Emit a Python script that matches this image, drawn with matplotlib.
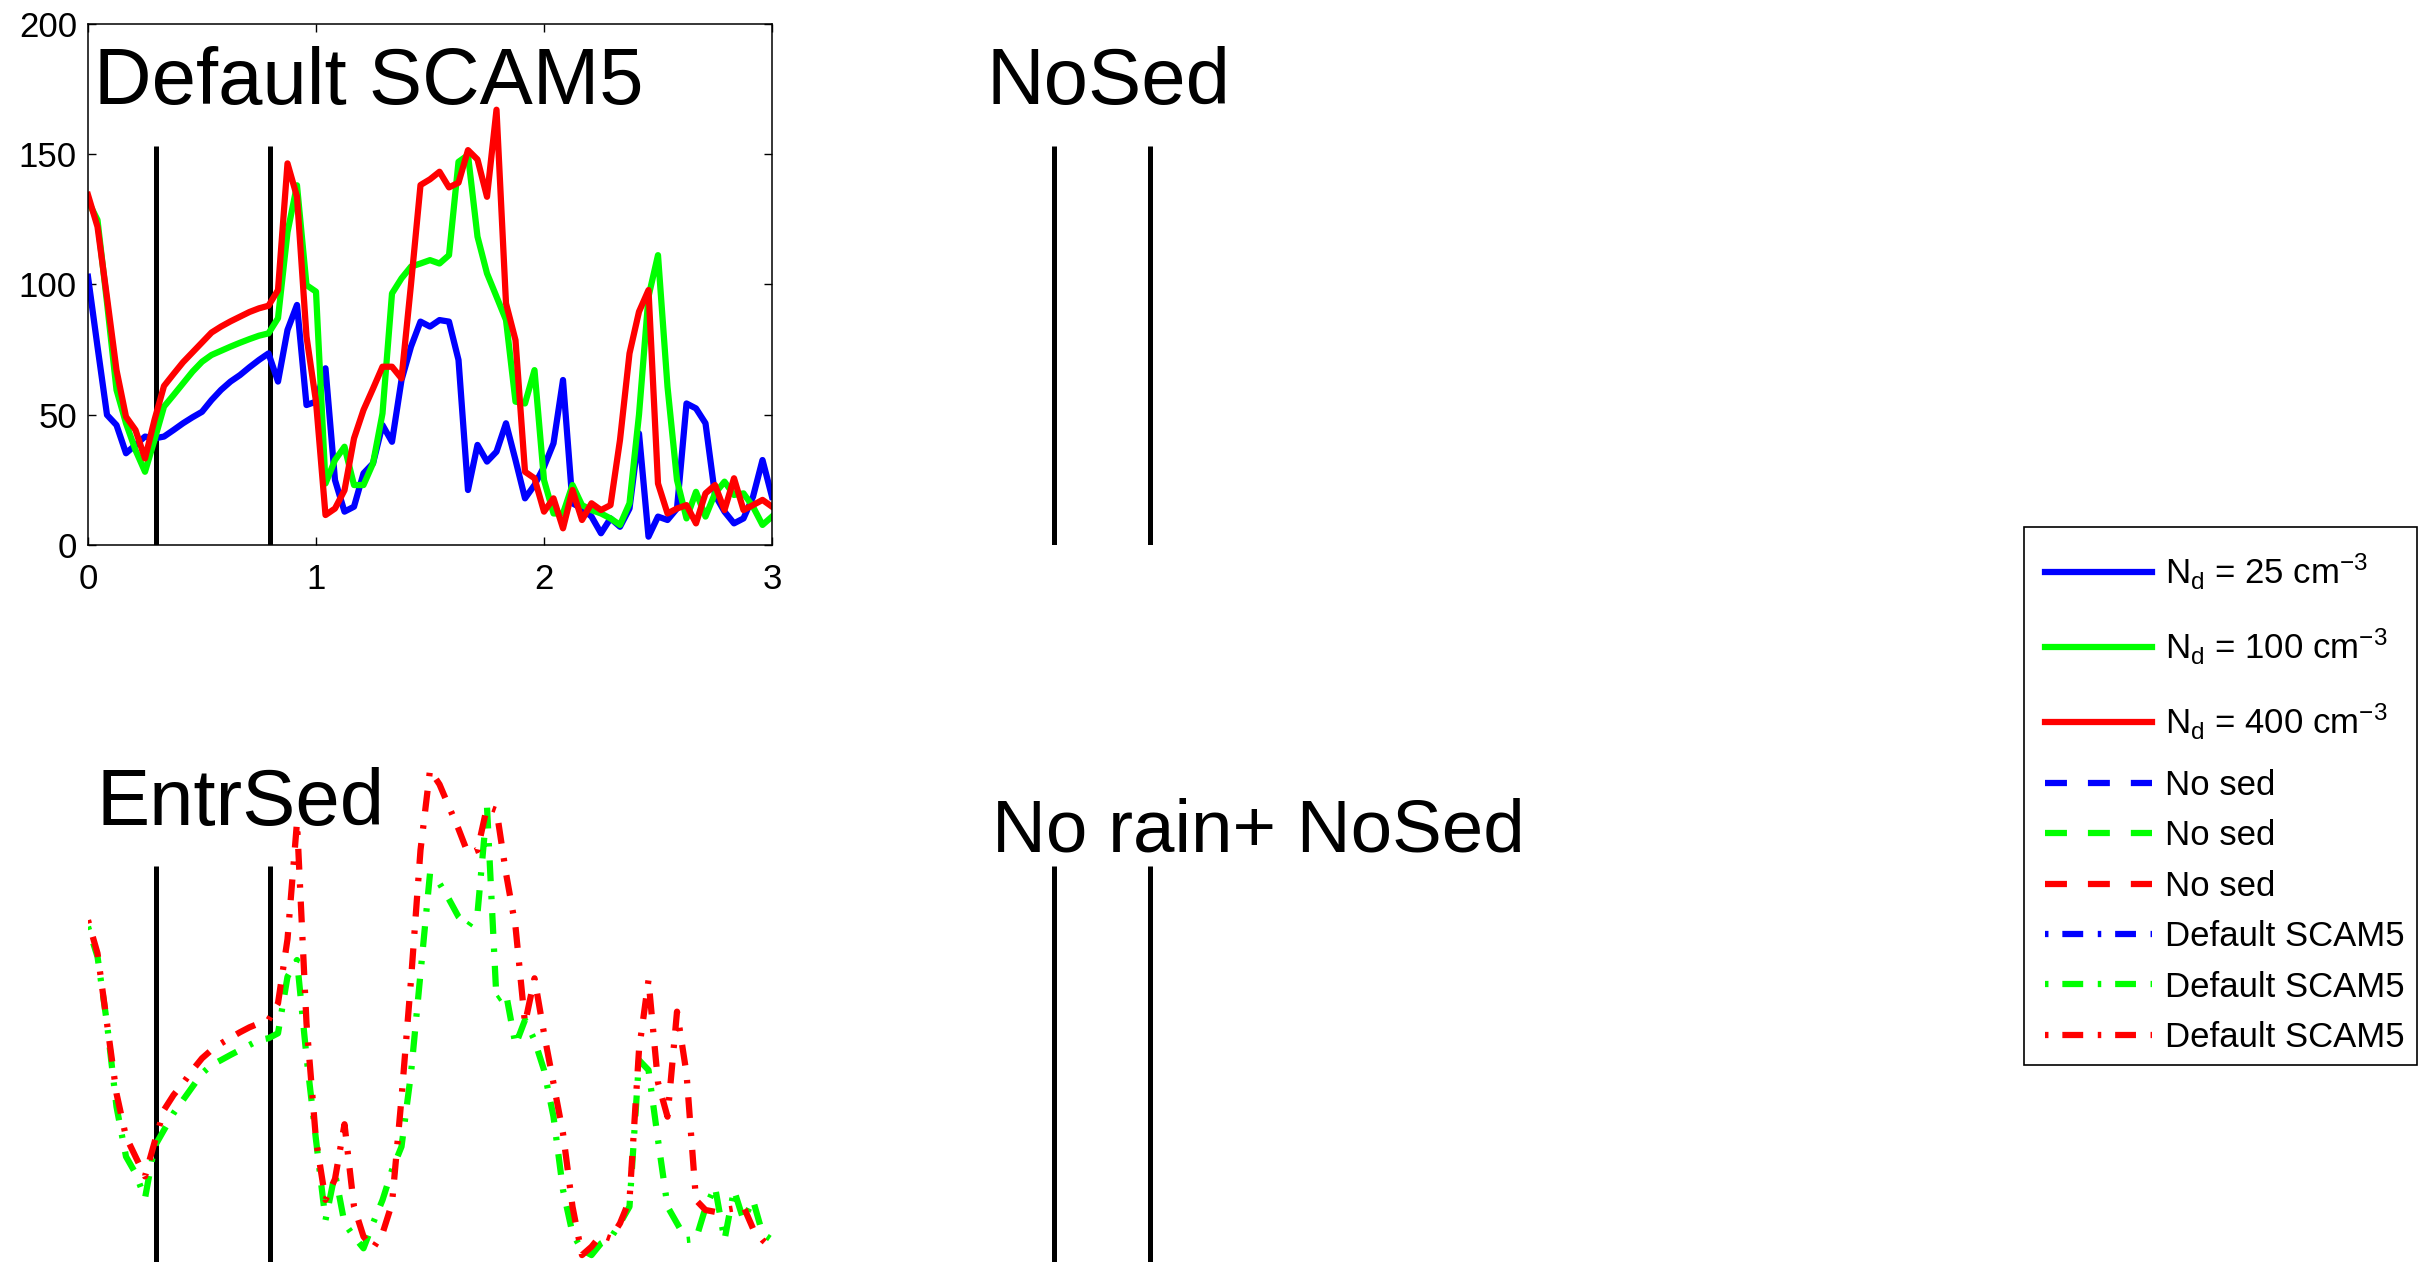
import matplotlib
matplotlib.use("Agg")
import matplotlib.pyplot as plt
from matplotlib.lines import Line2D
from matplotlib.patches import Rectangle
import numpy as np

plt.rcParams['font.family'] = ['Liberation Sans', 'DejaVu Sans']
plt.rcParams['mathtext.fontset'] = 'custom'
plt.rcParams['mathtext.rm'] = 'Liberation Sans'
plt.rcParams['mathtext.it'] = 'Liberation Sans:italic'
plt.rcParams['mathtext.bf'] = 'Liberation Sans:bold'
plt.rcParams['lines.scale_dashes'] = False

# ---------------- data (hourly output over 3 days) ----------------
hours = np.arange(73)
days = hours / 24.0

blue_top = [102.9, 76.1, 49.9, 46.0, 35.2, 38.4, 41.6, 40.9, 41.6, 44.1,
            46.7, 49.0, 51.1, 55.6, 59.5, 62.7, 65.2, 68.2, 71.0, 73.5,
            62.7, 82.5, 92.1, 53.7, 55.0, 67.8, 24.9, 12.8, 14.7, 27.5,
            31.3, 46.0, 39.6, 63.3, 76.1, 85.7, 83.8, 86.3, 85.7, 71.0,
            21.1, 38.4, 32.0, 35.8, 46.7, 32.6, 17.9, 23.0, 30.0, 39.0,
            63.3, 16.0, 14.0, 10.9, 4.5, 10.2, 7.0, 14.0, 42.8, 3.2,
            10.9, 9.6, 14.0, 54.3, 52.4, 46.7, 19.2, 12.8, 8.3, 10.2,
            18.5, 32.6, 18.5]

green_top = [132.0, 124.7, 93.0, 59.5, 46.7, 36.4, 28.1, 40.3, 53.1, 57.5,
             62.0, 66.5, 70.3, 72.9, 74.5, 76.1, 77.6, 79.0, 80.3, 81.2,
             87.0, 120.0, 138.0, 99.7, 97.2, 23.6, 32.6, 37.7, 23.0, 23.0,
             31.3, 50.5, 96.5, 102.3, 106.8, 108.0, 109.3, 108.0, 111.2, 147.0,
             149.6, 118.3, 104.2, 95.3, 86.3, 55.0, 54.3, 67.1, 24.9, 12.1,
             12.1, 23.0, 15.3, 13.4, 12.1, 10.2, 7.7, 16.0, 50.0, 95.3,
             111.2, 60.7, 24.9, 10.2, 20.4, 10.9, 19.8, 24.3, 19.2, 19.8,
             14.7, 7.7, 10.9]

red_top = [134.3, 122.1, 95.0, 67.1, 49.2, 44.1, 33.2, 48.0, 61.0, 65.6,
           70.1, 73.9, 77.7, 81.5, 83.8, 85.8, 87.6, 89.4, 90.8, 91.8,
           97.8, 146.4, 133.6, 80.0, 55.0, 11.5, 14.0, 21.0, 40.9, 51.8,
           60.0, 68.4, 68.4, 63.9, 100.0, 138.1, 140.3, 143.2, 137.2, 139.0,
           151.5, 147.9, 133.6, 167.0, 92.7, 78.6, 28.1, 25.6, 12.8, 17.9,
           6.4, 21.1, 9.6, 16.0, 13.4, 15.3, 40.3, 73.5, 89.5, 97.8,
           23.6, 12.1, 14.0, 15.3, 8.3, 19.8, 23.0, 13.4, 25.6, 13.4,
           15.3, 17.3, 14.7]

green_entr = [129.8, 118.3, 92.7, 60.7, 41.6, 35.2, 25.6, 45.4, 51.8, 58.2,
              63.3, 68.4, 73.5, 76.7, 78.6, 80.6, 82.5, 84.4, 86.3, 87.0,
              88.9, 110.6, 117.0, 79.9, 48.0, 17.2, 35.2, 16.0, 10.9, 6.4,
              16.0, 24.9, 36.4, 45.4, 73.5, 111.9, 150.2, 146.4, 140.3, 133.6,
              129.8, 134.9, 175.8, 101.7, 104.2, 84.4, 94.0, 86.3, 74.8, 56.9,
              28.8, 12.1, 5.8, 3.8, 8.3, 10.2, 16.0, 22.4, 78.6, 74.8,
              48.0, 22.4, 16.0, 9.6, 10.0, 22.0, 30.0, 9.6, 28.8, 17.2,
              24.9, 12.1, 9.6]

red_entr = [132.3, 119.6, 92.7, 65.8, 49.2, 41.6, 34.0, 47.0, 59.5, 65.2,
            69.7, 74.8, 79.3, 82.5, 85.0, 87.2, 89.3, 91.2, 92.7, 94.0,
            100.4, 125.0, 170.0, 92.7, 48.0, 25.0, 33.0, 54.0, 22.4, 10.9,
            6.4, 12.1, 23.6, 64.0, 109.3, 159.2, 189.9, 184.4, 175.8, 167.3,
            157.9, 159.2, 175.8, 174.5, 150.3, 129.8, 92.7, 110.0, 88.9, 69.7,
            50.5, 22.4, 3.8, 7.0, 11.5, 10.2, 16.0, 24.9, 82.5, 109.3,
            70.0, 56.9, 97.2, 73.5, 24.9, 21.1, 20.4, 21.1, 21.7, 22.4,
            14.0, 9.6, 6.4]

vline_x = [0.3, 0.8]
vline_top = 153
xticks = [0, 1, 2, 3]
yticks = [0, 50, 100, 150, 200]
panel_titles = ['Default SCAM5', 'NoSed', 'EntrSed', 'No rain+ NoSed']
legend_labels_nd = [r'N$_{\mathrm{d}}$ = 25 cm$^{-3}$',
                    r'N$_{\mathrm{d}}$ = 100 cm$^{-3}$',
                    r'N$_{\mathrm{d}}$ = 400 cm$^{-3}$']
legend_labels_runs = ['No sed', 'No sed', 'No sed',
                      'Default SCAM5', 'Default SCAM5', 'Default SCAM5']

# ---------------- figure ----------------
W, H = 2420, 1262
fig = plt.figure(figsize=(W / 100, H / 100), dpi=100)


def ax_at(l, t, r, b):
    return fig.add_axes([l / W, 1 - b / H, (r - l) / W, (b - t) / H])


ax1 = ax_at(88, 23.7, 772, 545)
ax2 = ax_at(996.5, 23.7, 1571.5, 545)
ax3 = ax_at(88, 743.7, 772, 1265)
ax4 = ax_at(996.5, 743.7, 1571.5, 1265)

LW = 4.5
DASH = (0, (15.8, 15.1))
DASHDOT = (0, (2.5, 10, 15, 10.5))
BLUE, GREEN, RED = (0, 0, 1), (0, 1, 0), (1, 0, 0)

for ax in (ax1, ax2, ax3, ax4):
    ax.set_xlim(0, 3)
    ax.set_ylim(0, 200)
    ax.vlines(vline_x, 0, vline_top, colors='k', linewidth=3.6)

ax1.plot(days, blue_top, color=BLUE, lw=LW, solid_joinstyle='round')
ax1.plot(days, green_top, color=GREEN, lw=LW, solid_joinstyle='round')
ax1.plot(days, red_top, color=RED, lw=LW, solid_joinstyle='round')

ax3.plot(days, green_entr, color=GREEN, lw=LW, linestyle=DASHDOT)
ax3.plot(days, red_entr, color=RED, lw=LW, linestyle=DASHDOT)

ax1.set_xticks(xticks)
ax1.set_yticks(yticks)
ax1.set_xticklabels([str(t) for t in xticks])
ax1.set_yticklabels([str(t) for t in yticks])
ax1.tick_params(axis='both', direction='in', length=6, width=1.0,
                top=True, right=True, labelsize=25)
ax1.tick_params(axis='x', pad=13)
ax1.tick_params(axis='y', pad=8)
for s in ax1.spines.values():
    s.set_linewidth(1.1)

for ax in (ax2, ax3, ax4):
    ax.axis('off')

ax1.text(0.025, 169.2, panel_titles[0], fontsize=57.4, va='baseline', ha='left')
ax2.text(-0.05, 169.2, panel_titles[1], fontsize=57.4, va='baseline', ha='left', clip_on=False)
ax3.text(0.037, 168.8, panel_titles[2], fontsize=57.4, va='baseline', ha='left', clip_on=False)
ax4.text(-0.023, 158.8, panel_titles[3], fontsize=53.7, va='baseline', ha='left', clip_on=False)

# ---------------- legend (frame + two blocks of entries) ----------------
handles_nd = [Line2D([], [], color=BLUE, lw=LW),
              Line2D([], [], color=GREEN, lw=LW),
              Line2D([], [], color=RED, lw=LW)]
handles_runs = [Line2D([], [], color=BLUE, lw=LW, linestyle=DASH),
                Line2D([], [], color=GREEN, lw=LW, linestyle=DASH),
                Line2D([], [], color=RED, lw=LW, linestyle=DASH),
                Line2D([], [], color=BLUE, lw=LW, linestyle=DASHDOT),
                Line2D([], [], color=GREEN, lw=LW, linestyle=DASHDOT),
                Line2D([], [], color=RED, lw=LW, linestyle=DASHDOT)]

frame = Rectangle((2024 / W, 1 - 1065 / H), (2417 - 2024) / W, (1065 - 527) / H,
                  transform=fig.transFigure, facecolor='white', edgecolor='k',
                  linewidth=1.2, zorder=4)
fig.add_artist(frame)

common = dict(fontsize=25, frameon=False, handlelength=3.07, handletextpad=0.38,
              borderpad=0, borderaxespad=0, loc='center left')
leg1 = fig.legend(handles_nd, legend_labels_nd,
                  bbox_to_anchor=(2045 / W, 1 - 647 / H), labelspacing=1.0, **common)
leg2 = fig.legend(handles_runs, legend_labels_runs,
                  bbox_to_anchor=(2045 / W, 1 - 911.5 / H), labelspacing=0.5, **common)
leg1.set_zorder(5)
leg2.set_zorder(5)

fig.savefig('out.png', dpi=100)
